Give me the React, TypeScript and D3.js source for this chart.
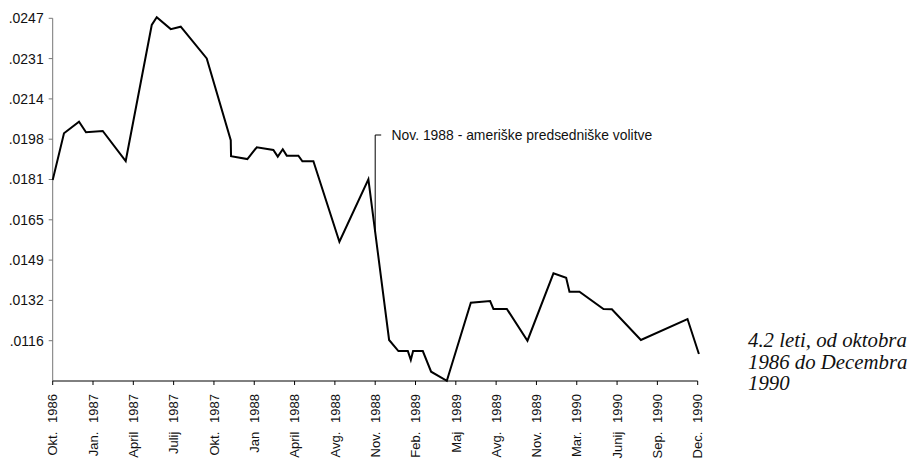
import React from "react";
import * as d3 from "d3";

// Category tick labels (x axis)
const xTickLabels = [
  "Okt. 1986", "Jan. 1987", "April 1987", "Julij 1987", "Okt. 1987",
  "Jan 1988", "April 1988", "Avg. 1988", "Nov. 1988", "Feb. 1989",
  "Maj 1989", "Avg. 1989", "Nov. 1989", "Mar. 1990", "Junij 1990",
  "Sep. 1990", "Dec. 1990",
];

// Y tick labels
const yTickLabels = [".0116", ".0132", ".0149", ".0165", ".0181", ".0198", ".0214", ".0231", ".0247"];
const yMin = 0.0099625;
const yStep = 0.0016375;

// Series: position along the axis (in tick units) and value
const seriesPos = [
  0, 0.28, 0.653, 0.826, 1.241, 1.811, 2.457, 2.581, 2.928, 3.176,
  3.821, 4.417, 4.424, 4.829, 5.062, 5.474, 5.583, 5.707, 5.806, 6.094,
  6.194, 6.467, 7.112, 7.831, 8.345, 8.576, 8.809, 8.883, 8.94, 9.181,
  9.387, 9.777, 10.372, 10.851, 10.933, 11.266, 11.777, 12.422, 12.737, 12.819,
  13.067, 13.663, 13.871, 14.591, 15.747, 16.03,
];
const seriesValues = [
  0.01813, 0.02003, 0.0205, 0.02007, 0.02012, 0.0189, 0.02443, 0.02474, 0.02426, 0.02436,
  0.02307, 0.01975, 0.0191, 0.01898, 0.01946, 0.01935, 0.01908, 0.01938, 0.01912, 0.01912,
  0.01889, 0.01889, 0.01562, 0.01816, 0.01163, 0.01118, 0.01118, 0.01082, 0.01118, 0.01118,
  0.01034, 0.00997, 0.01314, 0.01321, 0.01289, 0.01289, 0.0116, 0.01434, 0.01416, 0.01359,
  0.01359, 0.01289, 0.01288, 0.01163, 0.01248, 0.01106,
];

const annotationText = "Nov. 1988 - ameriške predsedniške volitve";
const annotationPos = 8;
const captionLines = ["4.2 leti, od oktobra", "1986 do Decembra", "1990"];

export default function App() {
  const width = 912;
  const height = 462;
  const x = d3.scaleLinear().domain([0, 16]).range([52.7, 697.7]);
  const y = d3.scaleLinear().domain([yMin, yMin + 9 * yStep]).range([381, 18.3]);

  const data = seriesPos.map((p, i) => ({ p, v: seriesValues[i] }));
  const line = d3
    .line<{ p: number; v: number }>()
    .x((d) => x(d.p))
    .y((d) => y(d.v));

  let annY = y(seriesValues[0]);
  for (let i = 0; i < data.length - 1; i++) {
    const a = data[i], b = data[i + 1];
    if (a.p <= annotationPos && b.p >= annotationPos) {
      const t = (annotationPos - a.p) / (b.p - a.p);
      annY = y(a.v + t * (b.v - a.v));
      break;
    }
  }
  const annX = x(annotationPos);
  const annTop = 135;

  const xTicks = xTickLabels.map((_, i) => i);
  const yTicks = yTickLabels.map((_, i) => yMin + (i + 1) * yStep);
  const x0 = x(0);
  const yBase = y(yMin);

  return (
    <svg
      width={width}
      height={height}
      style={{ position: "absolute", left: 0, top: 0, background: "#fff" }}
      fontFamily="'Liberation Sans', Arial, sans-serif"
    >
      <rect x={0} y={0} width={width} height={height} fill="#fff" />
      {/* Y axis */}
      <line x1={x0} x2={x0} y1={y(yMin + 9 * yStep)} y2={yBase} stroke="#777" strokeWidth={1} />
      {yTicks.map((v, i) => (
        <g key={"yt" + i}>
          <line x1={x0 - 4} x2={x0} y1={y(v)} y2={y(v)} stroke="#777" strokeWidth={1} />
          <text x={x0 - 9} y={y(v)} dy="0.35em" textAnchor="end" fontSize={14} fill="#111">
            {yTickLabels[i]}
          </text>
        </g>
      ))}
      {/* X axis */}
      <line x1={x0} x2={x(16)} y1={yBase} y2={yBase} stroke="#000" strokeWidth={1} />
      {xTicks.map((t) => {
        const [m, yr] = xTickLabels[t].split(" ");
        const cx = x(t);
        return (
          <g key={"xt" + t}>
            <line x1={cx} x2={cx} y1={yBase} y2={yBase + 4} stroke="#000" strokeWidth={1} />
            <g transform={`translate(${cx},${yBase}) rotate(-90)`}>
              <text x={-13} y={0} dy="0.36em" textAnchor="end" fontSize={13} fill="#111">
                {yr}
              </text>
              <text x={-50.7} y={0} dy="0.36em" textAnchor="end" fontSize={13} fill="#111">
                {m}
              </text>
            </g>
          </g>
        );
      })}
      {/* Series */}
      <path d={line(data) || ""} fill="none" stroke="#000" strokeWidth={2} strokeLinejoin="miter" />
      {/* Annotation */}
      <path
        d={`M${annX + 6},${annTop} H${annX} V${annY}`}
        fill="none"
        stroke="#000"
        strokeWidth={1}
      />
      <text x={391.5} y={annTop} dy="0.35em" fontSize={13.9} fill="#111">
        {annotationText}
      </text>
      {/* Caption */}
      {captionLines.map((l, i) => (
        <text
          key={"c" + i}
          x={748}
          y={347 + i * 21.5}
          fontFamily="'Liberation Serif', 'Times New Roman', serif"
          fontStyle="italic"
          fontSize={20.8}
          fill="#111"
        >
          {l}
        </text>
      ))}
    </svg>
  );
}
